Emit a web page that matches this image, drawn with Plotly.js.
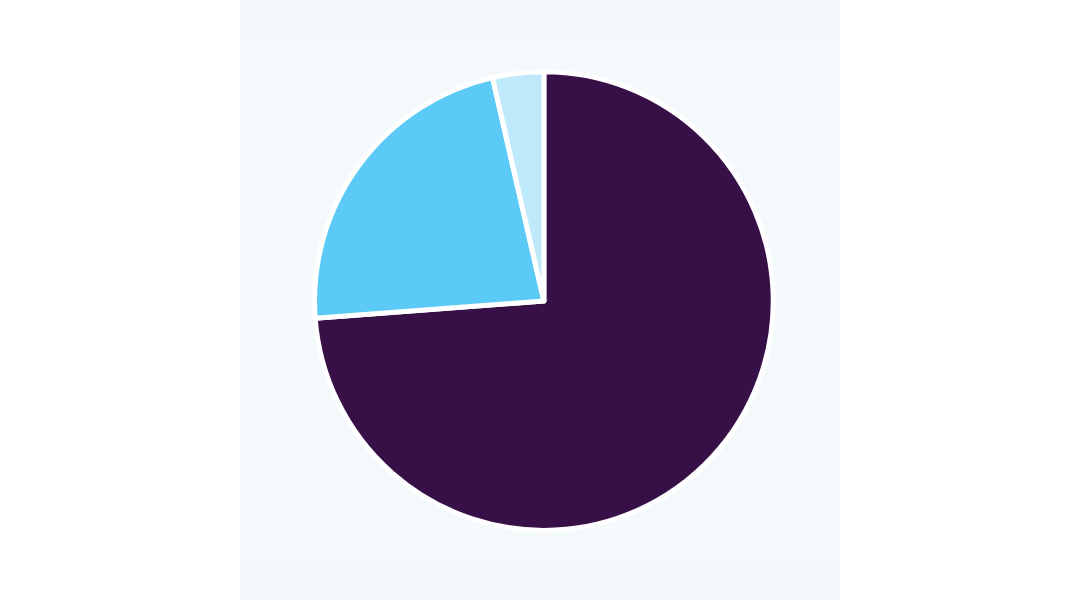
<!DOCTYPE html>
<html>
<head>
<meta charset="utf-8">
<script src="https://cdn.plot.ly/plotly-3.0.1.min.js"></script>
<style>
  html, body { margin: 0; padding: 0; background: #ffffff; }
  #plot { width: 1080px; height: 600px; }
</style>
</head>
<body>
<div id="plot"></div>
<script>
const labels = ["A", "B", "C"];
const shares = [73.8, 22.6, 3.6];
const colors = ["#371048", "#5ccaf6", "#bee9fa"];

const plotDiv = document.getElementById("plot");

const trace = {
  type: "pie",
  labels: labels,
  values: shares,
  sort: false,
  direction: "clockwise",
  rotation: 0,
  textinfo: "none",
  hoverinfo: "label+percent",
  marker: { colors: colors, line: { color: "#ffffff", width: 5 } },
  domain: { x: [0.124, 0.889], y: [0.062, 0.934] },
};

const bandH = 37 / 526;

const layout = {
  width: 1080,
  height: 600,
  margin: { l: 240, r: 240, t: 37, b: 37 },
  paper_bgcolor: "#ffffff",
  showlegend: false,
  shapes: [
    { type: "rect", xref: "paper", yref: "paper", x0: 0, x1: 1, y0: 0, y1: 1,
      fillcolor: "#f4f9fc", line: { width: 0 }, layer: "below" },
    { type: "rect", xref: "paper", yref: "paper", x0: 0, x1: 1, y0: 1, y1: 1 + bandH,
      fillcolor: "#f2f7fa", line: { width: 0 }, layer: "below" },
    { type: "rect", xref: "paper", yref: "paper", x0: 0, x1: 1, y0: -bandH, y1: 0,
      fillcolor: "#f2f7fa", line: { width: 0 }, layer: "below" },
  ],
};

Plotly.newPlot(plotDiv, [trace], layout, { displayModeBar: false, staticPlot: true });
</script>
</body>
</html>
